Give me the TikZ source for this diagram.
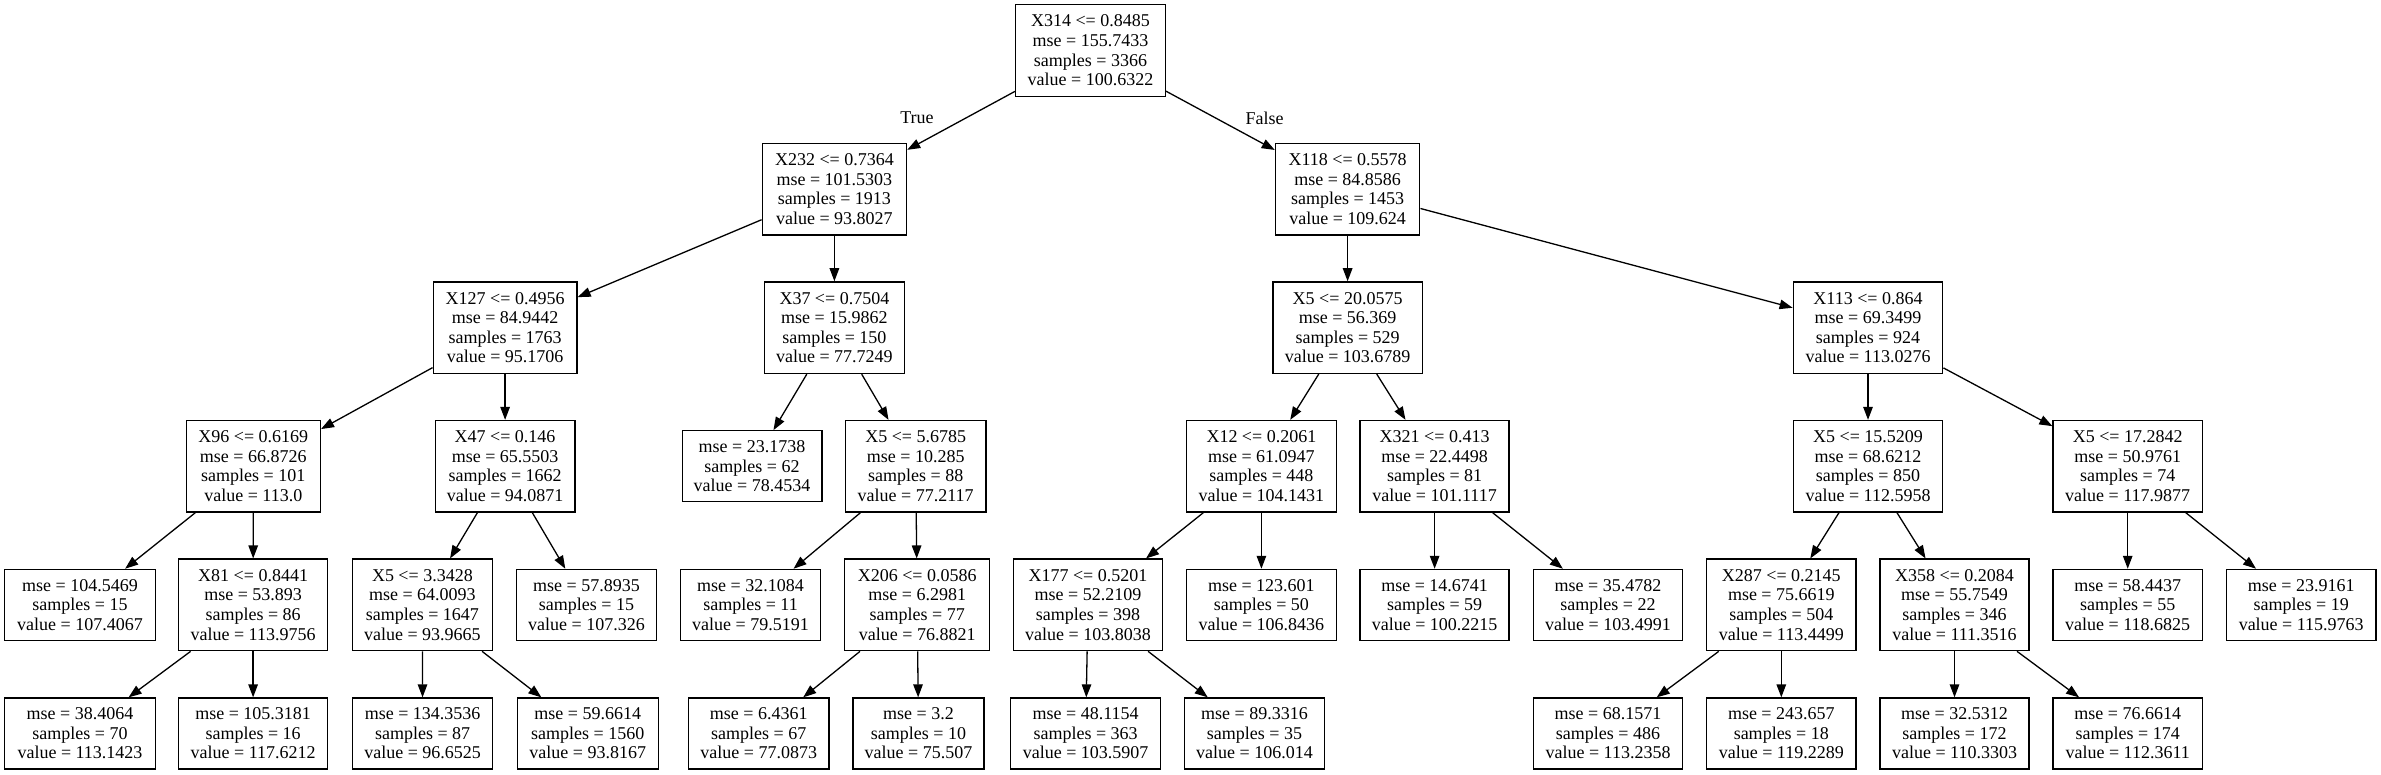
\documentclass[tikz,border=0pt]{standalone}
\usepackage{fontspec}
\setmainfont{Liberation Serif}
\usetikzlibrary{arrows.meta}
\tikzset{
  box/.style={draw, line width=1.3pt, inner sep=0pt, align=center,
    font=\fontsize{18}{19.6}\selectfont, fill=white},
  split/.style={box, minimum height=91.6pt},
  leaf/.style={box, minimum height=71pt},
  edge/.style={line width=1.3pt, -{Triangle[length=13pt,width=9.5pt]}},
  lbl/.style={font=\fontsize{18}{19.6}\selectfont, inner sep=0pt}
}
\begin{document}
\begin{tikzpicture}[x=1pt,y=-1pt]
\fill[white] (0,0) rectangle (2381,775);
\useasboundingbox (0,0) rectangle (2381,775);
% level 0
\node[split, minimum width=149.6pt] (n0) at (1090.5,50.5) {X314 <= 0.8485\\mse = 155.7433\\samples = 3366\\value = 100.6322};
% level 1
\node[split, minimum width=144.3pt] (n1) at (834.4,189.1) {X232 <= 0.7364\\mse = 101.5303\\samples = 1913\\value = 93.8027};
\node[split, minimum width=144.4pt] (n2) at (1347.6,189.1) {X118 <= 0.5578\\mse = 84.8586\\samples = 1453\\value = 109.624};
% level 2
\node[split, minimum width=143.8pt] (n3) at (505.1,327.7) {X127 <= 0.4956\\mse = 84.9442\\samples = 1763\\value = 95.1706};
\node[split, minimum width=140.2pt] (n4) at (834.4,327.7) {X37 <= 0.7504\\mse = 15.9862\\samples = 150\\value = 77.7249};
\node[split, minimum width=149.4pt] (n5) at (1347.6,327.7) {X5 <= 20.0575\\mse = 56.369\\samples = 529\\value = 103.6789};
\node[split, minimum width=149.5pt] (n6) at (1868,327.7) {X113 <= 0.864\\mse = 69.3499\\samples = 924\\value = 113.0276};
% level 3
\node[split, minimum width=134.2pt] (n7) at (253.3,466.3) {X96 <= 0.6169\\mse = 66.8726\\samples = 101\\value = 113.0};
\node[split, minimum width=139.8pt] (n8) at (505.1,466.3) {X47 <= 0.146\\mse = 65.5503\\samples = 1662\\value = 94.0871};
\node[leaf, minimum width=139.7pt] (n9) at (752,466.3) {mse = 23.1738\\samples = 62\\value = 78.4534};
\node[split, minimum width=140.8pt] (n10) at (915.7,466.3) {X5 <= 5.6785\\mse = 10.285\\samples = 88\\value = 77.2117};
\node[split, minimum width=149.5pt] (n11) at (1261.4,466.3) {X12 <= 0.2061\\mse = 61.0947\\samples = 448\\value = 104.1431};
\node[split, minimum width=149pt] (n12) at (1434.6,466.3) {X321 <= 0.413\\mse = 22.4498\\samples = 81\\value = 101.1117};
\node[split, minimum width=149.5pt] (n13) at (1868,466.3) {X5 <= 15.5209\\mse = 68.6212\\samples = 850\\value = 112.5958};
\node[split, minimum width=149.4pt] (n14) at (2127.7,466.3) {X5 <= 17.2842\\mse = 50.9761\\samples = 74\\value = 117.9877};
% level 4
\node[leaf, minimum width=150.6pt] (n15) at (80,604.9) {mse = 104.5469\\samples = 15\\value = 107.4067};
\node[split, minimum width=149pt] (n16) at (253.1,604.9) {X81 <= 0.8441\\mse = 53.893\\samples = 86\\value = 113.9756};
\node[split, minimum width=139.7pt] (n17) at (422.4,604.9) {X5 <= 3.3428\\mse = 64.0093\\samples = 1647\\value = 93.9665};
\node[leaf, minimum width=140.3pt] (n18) at (586.5,604.9) {mse = 57.8935\\samples = 15\\value = 107.326};
\node[leaf, minimum width=139.7pt] (n19) at (750.5,604.9) {mse = 32.1084\\samples = 11\\value = 79.5191};
\node[split, minimum width=144.9pt] (n20) at (917.2,604.9) {X206 <= 0.0586\\mse = 6.2981\\samples = 77\\value = 76.8821};
\node[split, minimum width=149.5pt] (n21) at (1088,604.9) {X177 <= 0.5201\\mse = 52.2109\\samples = 398\\value = 103.8038};
\node[leaf, minimum width=149.5pt] (n22) at (1261.4,604.9) {mse = 123.601\\samples = 50\\value = 106.8436};
\node[leaf, minimum width=149pt] (n23) at (1434.6,604.9) {mse = 14.6741\\samples = 59\\value = 100.2215};
\node[leaf, minimum width=148.9pt] (n24) at (1608,604.9) {mse = 35.4782\\samples = 22\\value = 103.4991};
\node[split, minimum width=149.5pt] (n25) at (1781.3,604.9) {X287 <= 0.2145\\mse = 75.6619\\samples = 504\\value = 113.4499};
\node[split, minimum width=149pt] (n26) at (1954.5,604.9) {X358 <= 0.2084\\mse = 55.7549\\samples = 346\\value = 111.3516};
\node[leaf, minimum width=149.4pt] (n27) at (2127.7,604.9) {mse = 58.4437\\samples = 55\\value = 118.6825};
\node[leaf, minimum width=149.5pt] (n28) at (2301.2,604.9) {mse = 23.9161\\samples = 19\\value = 115.9763};
% level 5
\node[leaf, minimum width=150.6pt] (n29) at (80,733.5) {mse = 38.4064\\samples = 70\\value = 113.1423};
\node[leaf, minimum width=149pt] (n30) at (253.1,733.5) {mse = 105.3181\\samples = 16\\value = 117.6212};
\node[leaf, minimum width=140.3pt] (n31) at (422.6,733.5) {mse = 134.3536\\samples = 87\\value = 96.6525};
\node[leaf, minimum width=140.9pt] (n32) at (587.8,733.5) {mse = 59.6614\\samples = 1560\\value = 93.8167};
\node[leaf, minimum width=140.7pt] (n33) at (758.7,733.5) {mse = 6.4361\\samples = 67\\value = 77.0873};
\node[leaf, minimum width=131.1pt] (n34) at (918.5,733.5) {mse = 3.2\\samples = 10\\value = 75.507};
\node[leaf, minimum width=150pt] (n35) at (1085.6,733.5) {mse = 48.1154\\samples = 363\\value = 103.5907};
\node[leaf, minimum width=139.8pt] (n36) at (1254.5,733.5) {mse = 89.3316\\samples = 35\\value = 106.014};
\node[leaf, minimum width=148.8pt] (n37) at (1608,733.5) {mse = 68.1571\\samples = 486\\value = 113.2358};
\node[leaf, minimum width=149.5pt] (n38) at (1781.3,733.5) {mse = 243.657\\samples = 18\\value = 119.2289};
\node[leaf, minimum width=149pt] (n39) at (1954.5,733.5) {mse = 32.5312\\samples = 172\\value = 110.3303};
\node[leaf, minimum width=149.4pt] (n40) at (2127.7,733.5) {mse = 76.6614\\samples = 174\\value = 112.3611};
% edge labels
\node[lbl] (ltrue) at (917,118) {True};
\node[lbl] (lfalse) at (1264.7,118) {False};
% edges
\foreach \a/\b in {n0/n1,n0/n2,n1/n3,n1/n4,n2/n5,n2/n6,n3/n7,n3/n8,n4/n9,n4/n10,
  n5/n11,n5/n12,n6/n13,n6/n14,n7/n15,n7/n16,n8/n17,n8/n18,n10/n19,n10/n20,
  n11/n21,n11/n22,n12/n23,n12/n24,n13/n25,n13/n26,n14/n27,n14/n28,
  n16/n29,n16/n30,n17/n31,n17/n32,n20/n33,n20/n34,n21/n35,n21/n36,
  n25/n37,n25/n38,n26/n39,n26/n40}
  \draw[edge] (\a) -- (\b);
\end{tikzpicture}
\end{document}
